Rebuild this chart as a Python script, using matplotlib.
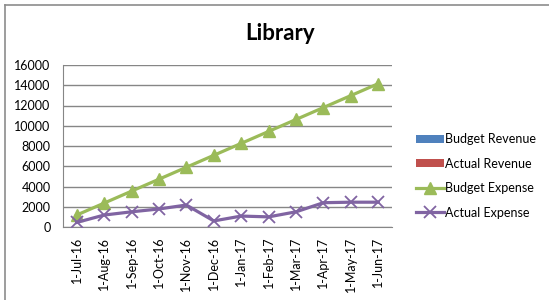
import matplotlib
matplotlib.use("Agg")
import matplotlib.pyplot as plt
from matplotlib.lines import Line2D
import numpy as np

plt.rcParams['font.family'] = ['Lato', 'DejaVu Sans']

months = ["1-Jul-16", "1-Aug-16", "1-Sep-16", "1-Oct-16", "1-Nov-16", "1-Dec-16",
          "1-Jan-17", "1-Feb-17", "1-Mar-17", "1-Apr-17", "1-May-17", "1-Jun-17"]
budget_revenue = [0, 0, 0, 0, 0, 0, 0, 0, 0, 0, 0, 0]
actual_revenue = [0, 0, 0, 0, 0, 0, 0, 0, 0, 0, 0, 0]
budget_expense = [1180, 2360, 3540, 4720, 5900, 7080, 8260, 9440, 10620, 11800, 12980, 14160]
actual_expense = [450, 1180, 1500, 1780, 2170, 600, 1080, 1000, 1500, 2400, 2450, 2450]
yticks = [0, 2000, 4000, 6000, 8000, 10000, 12000, 14000, 16000]

fig = plt.figure(figsize=(5.49, 3.0), dpi=100)
ax = fig.add_axes([63/549, 1-227/300, 329/549, 162/300])

x = np.arange(len(months))
b1 = ax.bar(x - 0.15, budget_revenue, width=0.3, color='#4F81BD', linewidth=0, label='Budget Revenue')
b2 = ax.bar(x + 0.15, actual_revenue, width=0.3, color='#C0504D', linewidth=0, label='Actual Revenue')
l1, = ax.plot(x, budget_expense, color='#9BBB59', lw=2.3, marker='^', ms=8,
              label='Budget Expense', zorder=3)
l2, = ax.plot(x, actual_expense, color='#8064A2', lw=2.3, marker='x', ms=9, mew=1.3,
              label='Actual Expense', zorder=3)

ax.set_xlim(-0.5, len(months) - 0.5)
ax.set_ylim(0, 16000)
ax.set_yticks(yticks)
ax.set_yticklabels([str(v) for v in yticks], fontsize=9)
ax.set_xticks(x)
ax.set_xticklabels(months, rotation=90, fontsize=9)
ax.tick_params(axis='y', length=0, pad=9)
ax.tick_params(axis='x', length=0, pad=7)
ax.grid(axis='y', color='#868686', lw=1)
ax.set_axisbelow(True)
for s in ['top', 'right']:
    ax.spines[s].set_visible(False)
ax.spines['left'].set_color('#868686')
ax.spines['bottom'].set_color('#868686')

fig.text(280/549, 1-34/300, "Library", ha='center', va='center', fontsize=16, fontweight='bold')

leg = ax.legend([b1, b2, l1, l2], ['Budget Revenue', 'Actual Revenue', 'Budget Expense', 'Actual Expense'],
                loc='upper left', bbox_to_anchor=(411/549, 1-128/300), bbox_transform=fig.transFigure,
                frameon=False, fontsize=9, handlelength=2.2, handleheight=0.6,
                handletextpad=0.15, labelspacing=1.0, borderaxespad=0)

fig.add_artist(Line2D([5/549, 1], [1-5/300, 1-5/300], transform=fig.transFigure, color='#8c8c8c', lw=1.2))
fig.add_artist(Line2D([5/549, 5/549], [0, 1-5/300], transform=fig.transFigure, color='#8c8c8c', lw=1.2))

fig.savefig("out.png", dpi=100)
